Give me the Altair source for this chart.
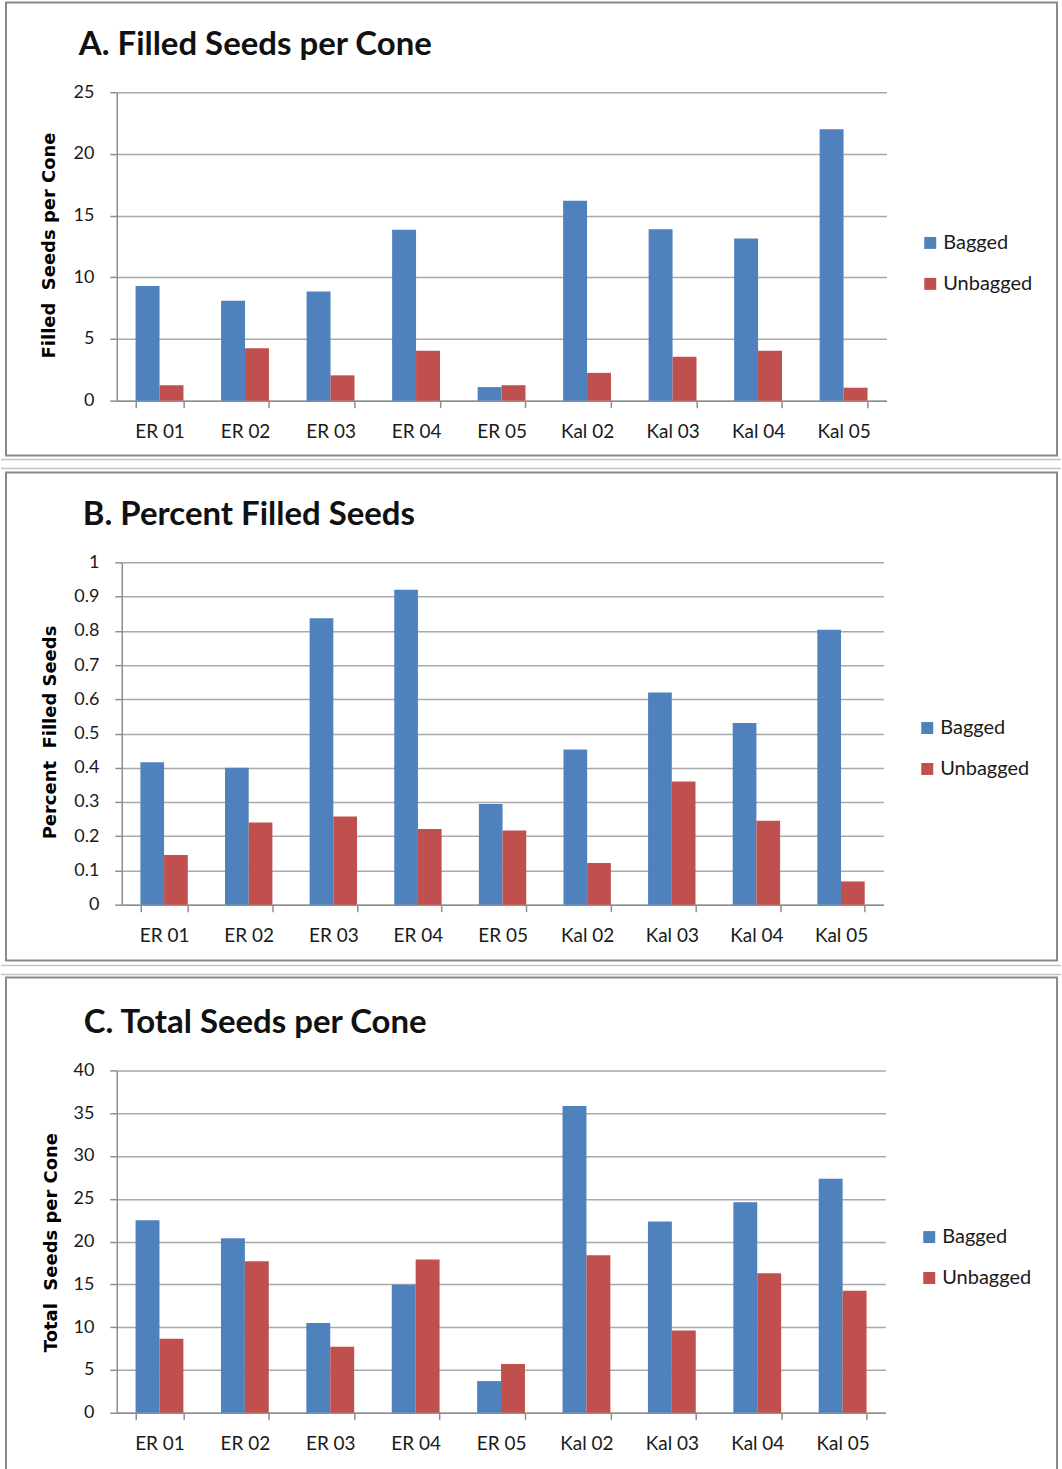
import altair as alt
import pandas as pd

# Sites and treatments
sites = ["ER 01", "ER 02", "ER 03", "ER 04", "ER 05", "Kal 02", "Kal 03", "Kal 04", "Kal 05"]
treatments = ["Bagged", "Unbagged"]

# A. Filled seeds per cone
filled_bagged = [9.3, 8.1, 8.85, 13.85, 1.1, 16.2, 13.9, 13.15, 22.0]
filled_unbagged = [1.25, 4.25, 2.05, 4.05, 1.25, 2.25, 3.55, 4.05, 1.05]

# B. Percent filled seeds
pct_bagged = [0.416, 0.40, 0.837, 0.92, 0.294, 0.453, 0.62, 0.531, 0.803]
pct_unbagged = [0.145, 0.24, 0.258, 0.221, 0.217, 0.122, 0.36, 0.245, 0.068]

# C. Total seeds per cone
total_bagged = [22.5, 20.4, 10.5, 14.95, 3.7, 35.85, 22.35, 24.6, 27.35]
total_unbagged = [8.65, 17.7, 7.7, 17.9, 5.7, 18.4, 9.6, 16.3, 14.25]

# Axis ticks
ticks_a = [0, 5, 10, 15, 20, 25]
ticks_b = [0, 0.1, 0.2, 0.3, 0.4, 0.5, 0.6, 0.7, 0.8, 0.9, 1]
ticks_c = [0, 5, 10, 15, 20, 25, 30, 35, 40]

BLUE = "#4F81BD"
RED = "#C0504D"
GRID = "#a9a9a9"
AXIS = "#8e8e8e"
FRAME = "#8a8a8a"
SEP = "#c4c4c4"
PAGE_W = 1062
ORIGIN_X = 116  # shared left edge of the plot groups


def panel(title_text, y_title, bagged, unbagged, y_ticks, y_fmt, lay):
    ax, oy, right, h = lay["plot"]          # axis x, plot top, plot right, plot height
    ox = ORIGIN_X
    w = right - ox
    shift = ax - ox                          # axis sits this far right of the group origin
    fx1, fy1, fx2, fy2 = lay["frame"]

    df = pd.DataFrame({
        "site": sites * 2,
        "treatment": [treatments[0]] * len(sites) + [treatments[1]] * len(sites),
        "value": bagged + unbagged,
    })
    one = pd.DataFrame({"k": [0]})

    x_scale = alt.Scale(paddingInner=0.44, paddingOuter=0.22)
    if shift:
        x_scale = alt.Scale(paddingInner=0.44, paddingOuter=0.22, range=[shift, w])

    y_axis_extra = {"offset": -shift} if shift else {}

    bars = alt.Chart(df).mark_bar().encode(
        x=alt.X(
            "site:N", sort=sites, title=None, scale=x_scale,
            axis=alt.Axis(
                labelAngle=0, tickBand="extent", grid=False,
                domainColor=AXIS, domainWidth=1.5,
                tickColor=AXIS, tickWidth=1.5, tickSize=7,
                labelFont="Lato", labelFontSize=19, labelColor="#1a1a1a",
                labelPadding=15,
            ),
        ),
        xOffset=alt.XOffset("treatment:N", sort=treatments),
        y=alt.Y(
            "value:Q",
            scale=alt.Scale(domain=[y_ticks[0], y_ticks[-1]], nice=False, zero=True),
            axis=alt.Axis(
                values=y_ticks, format=y_fmt, title=y_title,
                grid=True, gridColor=GRID, gridWidth=1.5,
                domainColor=AXIS, domainWidth=1.5,
                tickColor=AXIS, tickWidth=1.5, tickSize=7,
                labelFont="Lato", labelFontSize=18, labelColor="#1a1a1a",
                labelPadding=16,
                titleFont="DejaVu Sans", titleFontSize=18, titleFontWeight="bold",
                titleColor="#000000", titleAngle=270, titleAlign="center",
                titleBaseline="bottom",
                titleX=lay["ytitle"][0] - ax, titleY=lay["ytitle"][1] - oy,
                **y_axis_extra,
            ),
        ),
        color=alt.Color(
            "treatment:N", sort=treatments,
            scale=alt.Scale(domain=treatments, range=[BLUE, RED]),
            legend=alt.Legend(
                title=None, orient="none",
                legendX=lay["legend"][0] - ox, legendY=lay["legend"][1] - oy,
                symbolType="square", symbolSize=144, symbolStrokeWidth=0,
                labelFont="Lato", labelFontSize=20, labelColor="#1a1a1a",
                labelOffset=3, rowPadding=21, padding=0,
            ),
        ),
    )

    frame = alt.Chart(one).mark_rect(fillOpacity=0, stroke=FRAME, strokeWidth=2).encode(
        x=alt.value(fx1 - ox), x2=alt.value(fx2 - ox),
        y=alt.value(fy1 - oy), y2=alt.value(fy2 - oy),
    )

    layers = [frame]
    for sy in lay["seps"]:
        layers.append(
            alt.Chart(one).mark_rule(color=SEP, strokeWidth=1.5).encode(
                x=alt.value(0 - ox), x2=alt.value(PAGE_W - ox), y=alt.value(sy - oy)
            )
        )

    heading = alt.Chart(one).mark_text(
        align="left", baseline="alphabetic", font="Lato", fontSize=33,
        fontWeight="bold", color="#111111",
    ).encode(
        x=alt.value(lay["title"][0] - ox), y=alt.value(lay["title"][1] - oy),
        text=alt.value(title_text),
    )

    layers += [bars, heading]
    return alt.layer(*layers).properties(width=w, height=h)


# page layout of each panel (plot box, frame box, separators, title, legend, y title)
lay_a = dict(plot=(116, 93, 887, 309), frame=(5, 3, 1058, 457), seps=[461],
             title=(78, 56), legend=(921, 234), ytitle=(58, 246))
lay_b = dict(plot=(121, 563, 884, 343), frame=(5, 473, 1058, 962), seps=[469, 967],
             title=(82, 526), legend=(918, 719), ytitle=(59, 733))
lay_c = dict(plot=(116, 1071, 886, 343), frame=(5, 978, 1058, 1495), seps=[975],
             title=(83, 1034), legend=(920, 1228), ytitle=(60, 1243))

chart_a = panel("A. Filled Seeds per Cone", "Filled\u00a0 Seeds per Cone",
                filled_bagged, filled_unbagged, ticks_a, "d", lay_a)
chart_b = panel("B. Percent Filled Seeds", "Percent\u00a0 Filled Seeds",
                pct_bagged, pct_unbagged, ticks_b, "~g", lay_b)
chart_c = panel("C. Total Seeds per Cone", "Total\u00a0 Seeds per Cone",
                total_bagged, total_unbagged, ticks_c, "d", lay_c)

chart = (
    alt.vconcat(chart_a, chart_b, chart_c, spacing=7)
    .resolve_scale(x="independent", y="independent", color="independent", xOffset="independent")
    .resolve_legend(color="independent")
    .properties(padding={"left": 0, "top": 0, "right": 0, "bottom": 0}, background="white")
    .configure_view(stroke=None)
)

chart.save("out.html", embed_options={"renderer": "svg", "actions": False})
